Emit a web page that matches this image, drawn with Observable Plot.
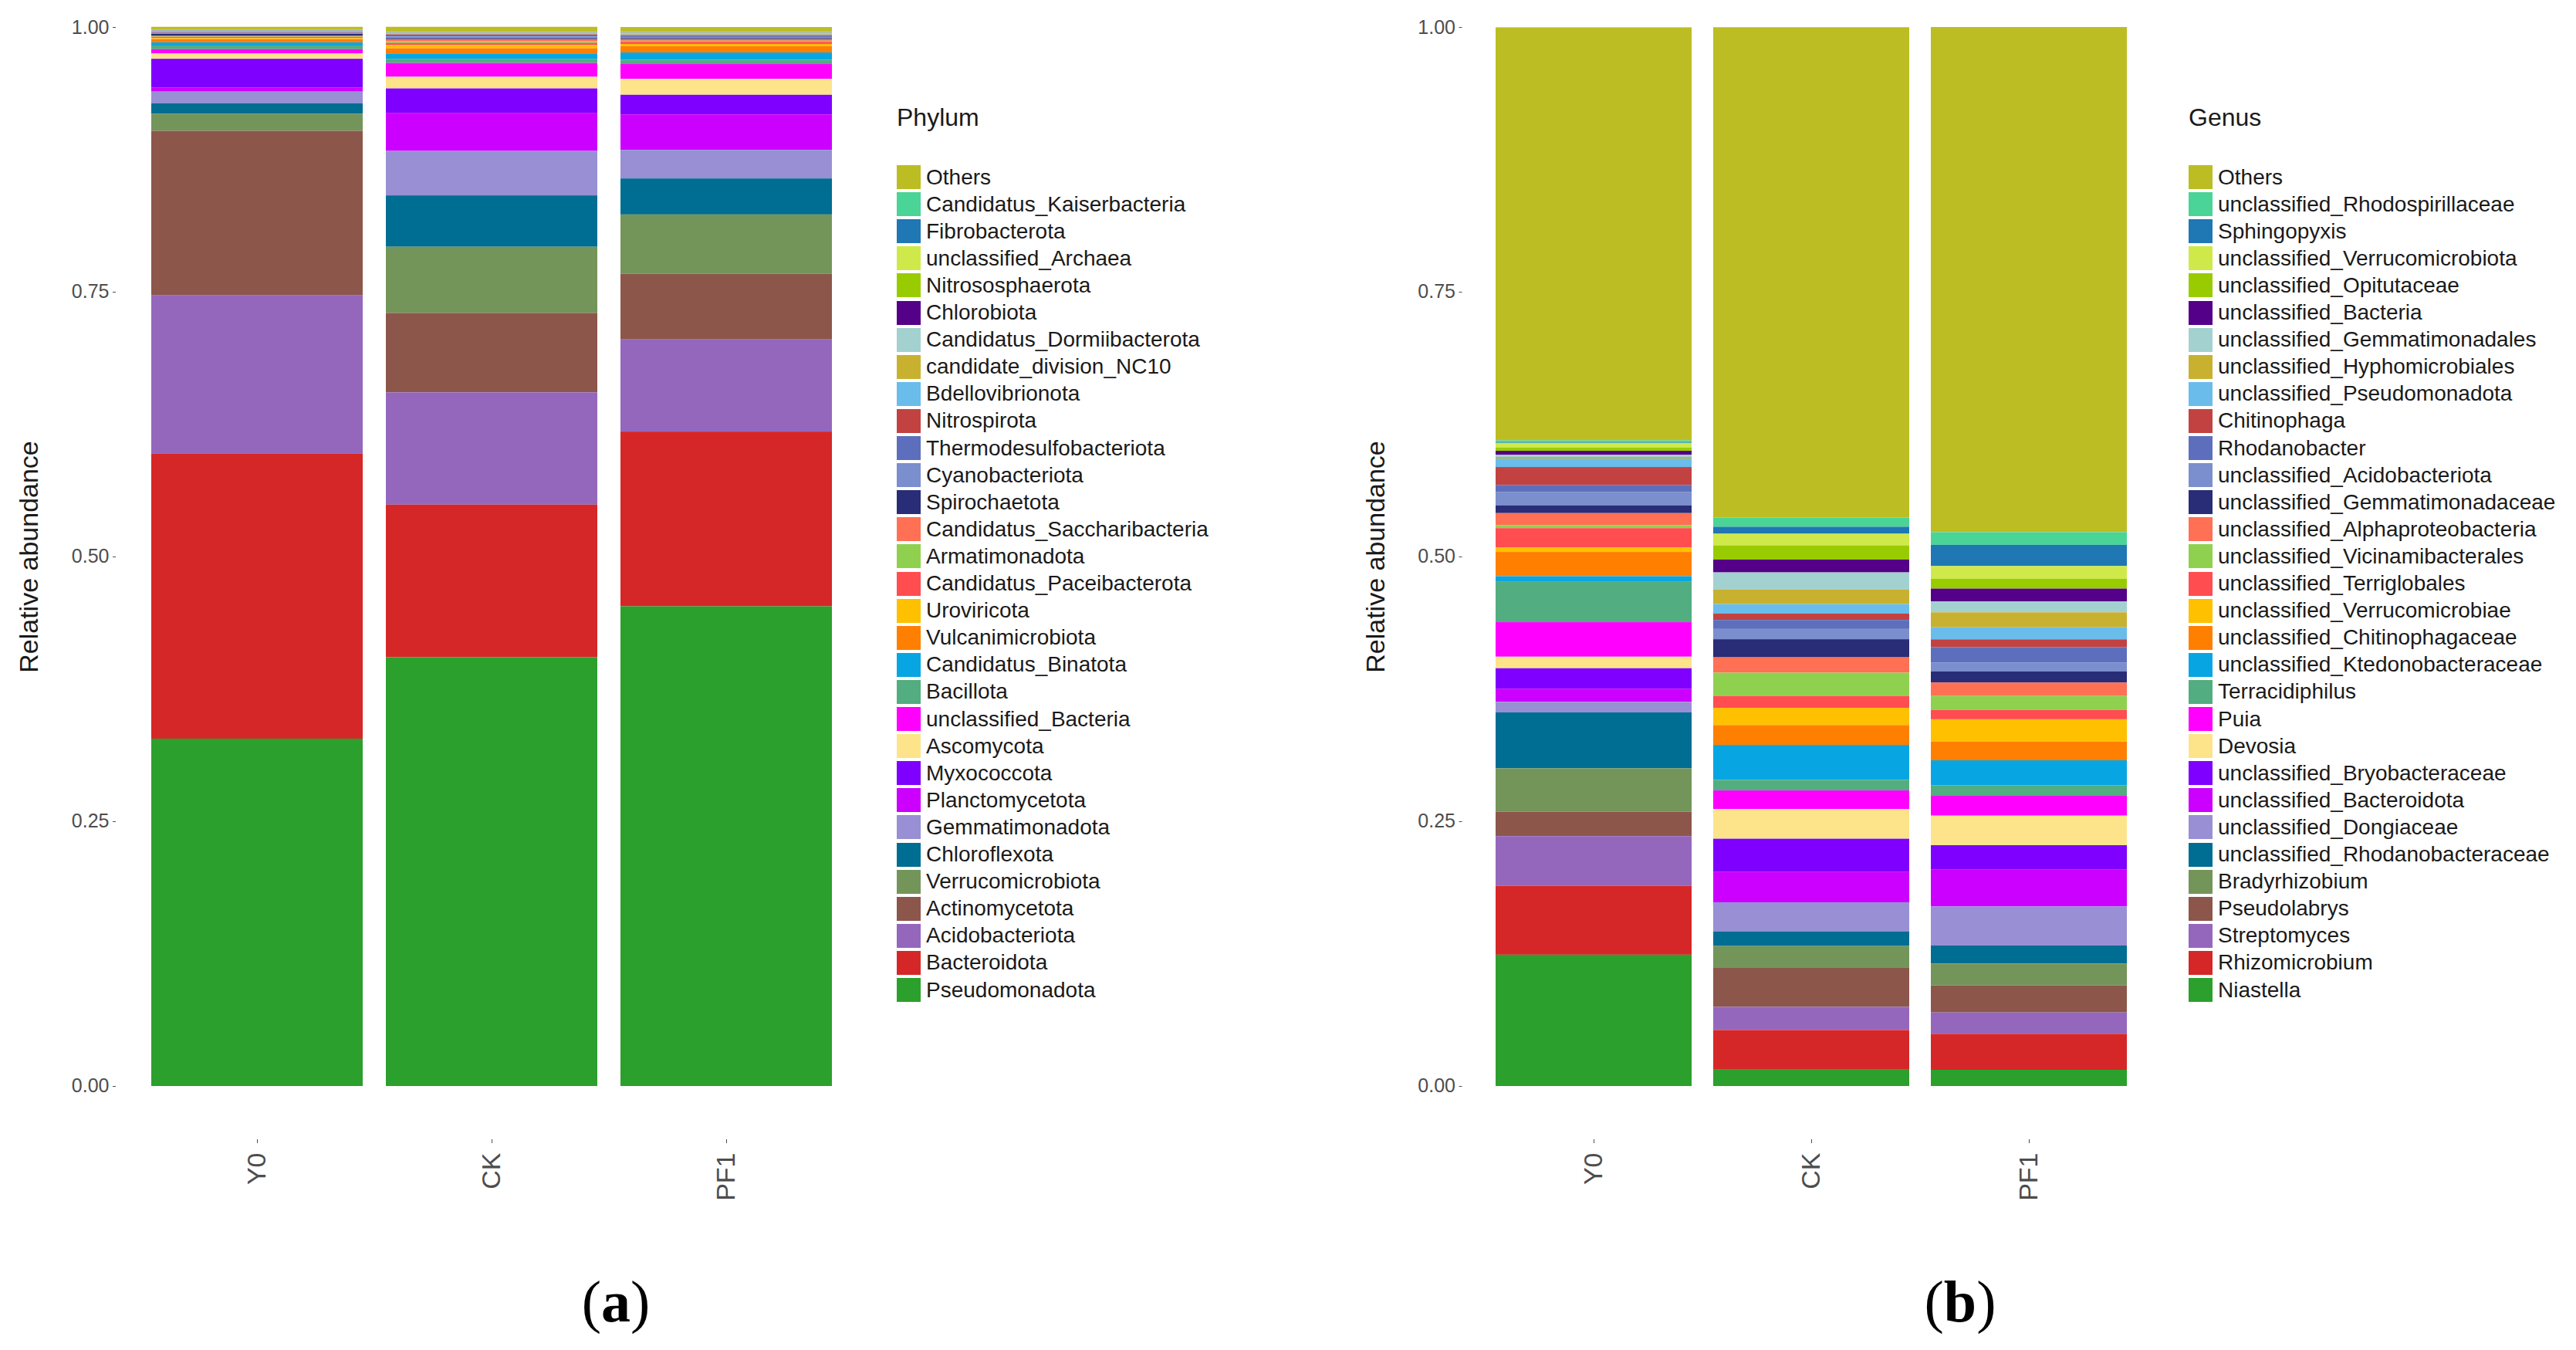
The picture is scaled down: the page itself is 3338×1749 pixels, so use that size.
<!DOCTYPE html>
<html>
<head>
<meta charset="utf-8">
<script src="https://cdn.jsdelivr.net/npm/d3@7"></script>
<script src="https://cdn.jsdelivr.net/npm/@observablehq/plot@0.6"></script>
<style>
  html, body { margin: 0; padding: 0; background: #fff; }
  #page { position: relative; width: 3338px; height: 1749px; overflow: hidden;
          font-family: "Liberation Sans", Arial, Helvetica, sans-serif; }
  .panel { position: absolute; top: 0; }
  .legend { position: absolute; top: 0; color: #1a1a1a; }
  .legend .title { position: absolute; left: 0; top: 136px; font-size: 32px; line-height: 1; white-space: nowrap; }
  .legend .row { position: absolute; left: 0; height: 35px; display: flex; align-items: center;
                 white-space: nowrap; font-size: 28px; }
  .legend .sw { width: 31px; height: 31px; margin-right: 7px; flex: none; }
  .caption { position: absolute; top: 1648px; font-family: "Liberation Serif", "Times New Roman", serif;
             font-size: 76px; line-height: 1; transform: translateX(-50%); color: #000; }
</style>
</head>
<body>
<div id="page"></div>
<script>
// Samples on the x axis
const samples = ["Y0", "CK", "PF1"];
const yTicks = [0, 0.25, 0.5, 0.75, 1];

// Shared palette, listed in legend order (top of stack first)
const palette = [
  "#BCBD22", "#4AD496", "#1F77B4", "#CFE94B", "#99CC00", "#540088", "#A3D1D0", "#C8B12F",
  "#6ABCEB", "#C24242", "#5D6FBC", "#7B8ECD", "#292C76", "#FF7055", "#8FD14F", "#FF4D50",
  "#FFC000", "#FF7F00", "#07A6E2", "#52AD81", "#FF00FF", "#FDE48B", "#7F00FF", "#CC00FF",
  "#988FD4", "#006D92", "#73955A", "#8C564B", "#9467BD", "#D62728", "#2CA02C"
];

// Phylum level (legend order)
const phyla = [
  "Others", "Candidatus_Kaiserbacteria", "Fibrobacterota", "unclassified_Archaea", "Nitrososphaerota",
  "Chlorobiota", "Candidatus_Dormiibacterota", "candidate_division_NC10", "Bdellovibrionota", "Nitrospirota",
  "Thermodesulfobacteriota", "Cyanobacteriota", "Spirochaetota", "Candidatus_Saccharibacteria", "Armatimonadota",
  "Candidatus_Paceibacterota", "Uroviricota", "Vulcanimicrobiota", "Candidatus_Binatota", "Bacillota",
  "unclassified_Bacteria", "Ascomycota", "Myxococcota", "Planctomycetota", "Gemmatimonadota",
  "Chloroflexota", "Verrucomicrobiota", "Actinomycetota", "Acidobacteriota", "Bacteroidota", "Pseudomonadota"
];
const phylumY0 = [0.0025, 0.0002, 0.0002, 0.0002, 0.0002, 0.0003, 0.0003, 0.0003, 0.0005, 0.0005,
  0.0005, 0.001, 0.0015, 0.001, 0.0005, 0.001, 0.001, 0.003, 0.003, 0.0035,
  0.004, 0.005, 0.027, 0.004, 0.011, 0.010, 0.016, 0.155, 0.150, 0.269, 0.328];
const phylumCK = [0.0045, 0.0002, 0.0002, 0.0002, 0.0003, 0.0003, 0.0005, 0.0005, 0.0005, 0.001,
  0.001, 0.0015, 0.001, 0.002, 0.0015, 0.002, 0.003, 0.005, 0.005, 0.004,
  0.013, 0.011, 0.023, 0.036, 0.042, 0.0485, 0.0625, 0.075, 0.106, 0.144, 0.405];
const phylumPF1 = [0.0043, 0.0002, 0.0002, 0.0002, 0.0003, 0.0003, 0.001, 0.0005, 0.0005, 0.001,
  0.001, 0.001, 0.001, 0.0015, 0.001, 0.002, 0.002, 0.006, 0.007, 0.004,
  0.014, 0.015, 0.0185, 0.0335, 0.027, 0.034, 0.056, 0.062, 0.087, 0.165, 0.453];

// Genus level (legend order)
const genera = [
  "Others", "unclassified_Rhodospirillaceae", "Sphingopyxis", "unclassified_Verrucomicrobiota",
  "unclassified_Opitutaceae", "unclassified_Bacteria", "unclassified_Gemmatimonadales",
  "unclassified_Hyphomicrobiales", "unclassified_Pseudomonadota", "Chitinophaga", "Rhodanobacter",
  "unclassified_Acidobacteriota", "unclassified_Gemmatimonadaceae", "unclassified_Alphaproteobacteria",
  "unclassified_Vicinamibacterales", "unclassified_Terriglobales", "unclassified_Verrucomicrobiae",
  "unclassified_Chitinophagaceae", "unclassified_Ktedonobacteraceae", "Terracidiphilus", "Puia", "Devosia",
  "unclassified_Bryobacteraceae", "unclassified_Bacteroidota", "unclassified_Dongiaceae",
  "unclassified_Rhodanobacteraceae", "Bradyrhizobium", "Pseudolabrys", "Streptomyces", "Rhizomicrobium", "Niastella"
];
const genusY0 = [0.390, 0.002, 0.0005, 0.0044, 0.003, 0.0038, 0.002, 0.0015, 0.008, 0.0169,
  0.0065, 0.0128, 0.0073, 0.0113, 0.0029, 0.0181, 0.0044, 0.0229, 0.0048, 0.0386,
  0.0326, 0.0109, 0.0193, 0.0125, 0.0099, 0.0528, 0.041, 0.023, 0.047, 0.065, 0.124];
const genusCK = [0.463, 0.0087, 0.0066, 0.011, 0.0134, 0.0121, 0.0163, 0.0136, 0.009, 0.006,
  0.0085, 0.0097, 0.0171, 0.0145, 0.0219, 0.0113, 0.0163, 0.0187, 0.033, 0.010,
  0.0176, 0.028, 0.031, 0.029, 0.0275, 0.0138, 0.0207, 0.0367, 0.0219, 0.0369, 0.016];
const genusPF1 = [0.477, 0.012, 0.020, 0.0121, 0.0092, 0.0122, 0.0102, 0.0141, 0.0114, 0.0073,
  0.0145, 0.0086, 0.0104, 0.0127, 0.0131, 0.0089, 0.021, 0.0177, 0.0238, 0.0098,
  0.0187, 0.0279, 0.0231, 0.0347, 0.0369, 0.017, 0.0207, 0.0255, 0.0202, 0.034, 0.0153];

const page = document.getElementById("page");

// One stacked-bar panel plus its legend and caption letter
function drawPanel({taxa, series, legendTitle, left, width, marginLeft, marginRight, legendLeft, captionX, letter}) {
  const rows = samples.flatMap((s, i) => taxa.map((t, j) => ({sample: s, taxon: t, value: series[i][j]})));
  const chart = Plot.plot({
    width, height: 1560,
    marginLeft, marginRight, marginTop: 35, marginBottom: 84,
    style: {fontFamily: '"Liberation Sans", Arial, Helvetica, sans-serif', color: "#4d4d4d", background: "transparent"},
    x: {domain: samples, paddingInner: 0.1, paddingOuter: 0.15, label: null},
    y: {domain: [-0.0503, 1], label: null},
    color: {domain: taxa, range: palette},
    marks: [
      Plot.barY(rows, Plot.stackY({order: taxa.slice().reverse()},
        {x: "sample", y: "value", z: "taxon", fill: "taxon"})),
      Plot.axisY({ticks: yTicks, tickFormat: d3.format(".2f"), tickSize: 4, tickPadding: 5,
        fontSize: 25, label: null}),
      Plot.axisX({tickSize: 5, tickPadding: 12, tickRotate: -90, fontSize: 34, label: null}),
      Plot.text(["Relative abundance"], {y: () => 0.5, frameAnchor: "left", textAnchor: "middle",
        dx: -112, rotate: -90, fontSize: 34, fill: "#1a1a1a"})
    ]
  });
  chart.classList.add("panel");
  chart.style.left = left + "px";
  page.appendChild(chart);

  // Legend built from the chart's colour scale
  const scale = chart.scale("color");
  const colorOf = t => scale.apply ? scale.apply(t) : scale.range[scale.domain.indexOf(t)];
  const legend = document.createElement("div");
  legend.className = "legend";
  legend.style.left = legendLeft + "px";
  const title = document.createElement("div");
  title.className = "title";
  title.textContent = legendTitle;
  legend.appendChild(title);
  taxa.forEach((t, i) => {
    const row = document.createElement("div");
    row.className = "row";
    row.style.top = (212 + i * 35.1) + "px";
    const sw = document.createElement("div");
    sw.className = "sw";
    sw.style.background = colorOf(t);
    const label = document.createElement("span");
    label.textContent = t;
    row.appendChild(sw);
    row.appendChild(label);
    legend.appendChild(row);
  });
  page.appendChild(legend);

  const cap = document.createElement("div");
  cap.className = "caption";
  cap.style.left = captionX + "px";
  cap.innerHTML = "(<b>" + letter + "</b>)";
  page.appendChild(cap);
}

drawPanel({taxa: phyla, series: [phylumY0, phylumCK, phylumPF1], legendTitle: "Phylum",
  left: 0, width: 1140, marginLeft: 150, marginRight: 15.6, legendLeft: 1162, captionX: 798, letter: "a"});
drawPanel({taxa: genera, series: [genusY0, genusCK, genusPF1], legendTitle: "Genus",
  left: 1720, width: 1100, marginLeft: 174.5, marginRight: 20, legendLeft: 2836, captionX: 2540, letter: "b"});
</script>
</body>
</html>
